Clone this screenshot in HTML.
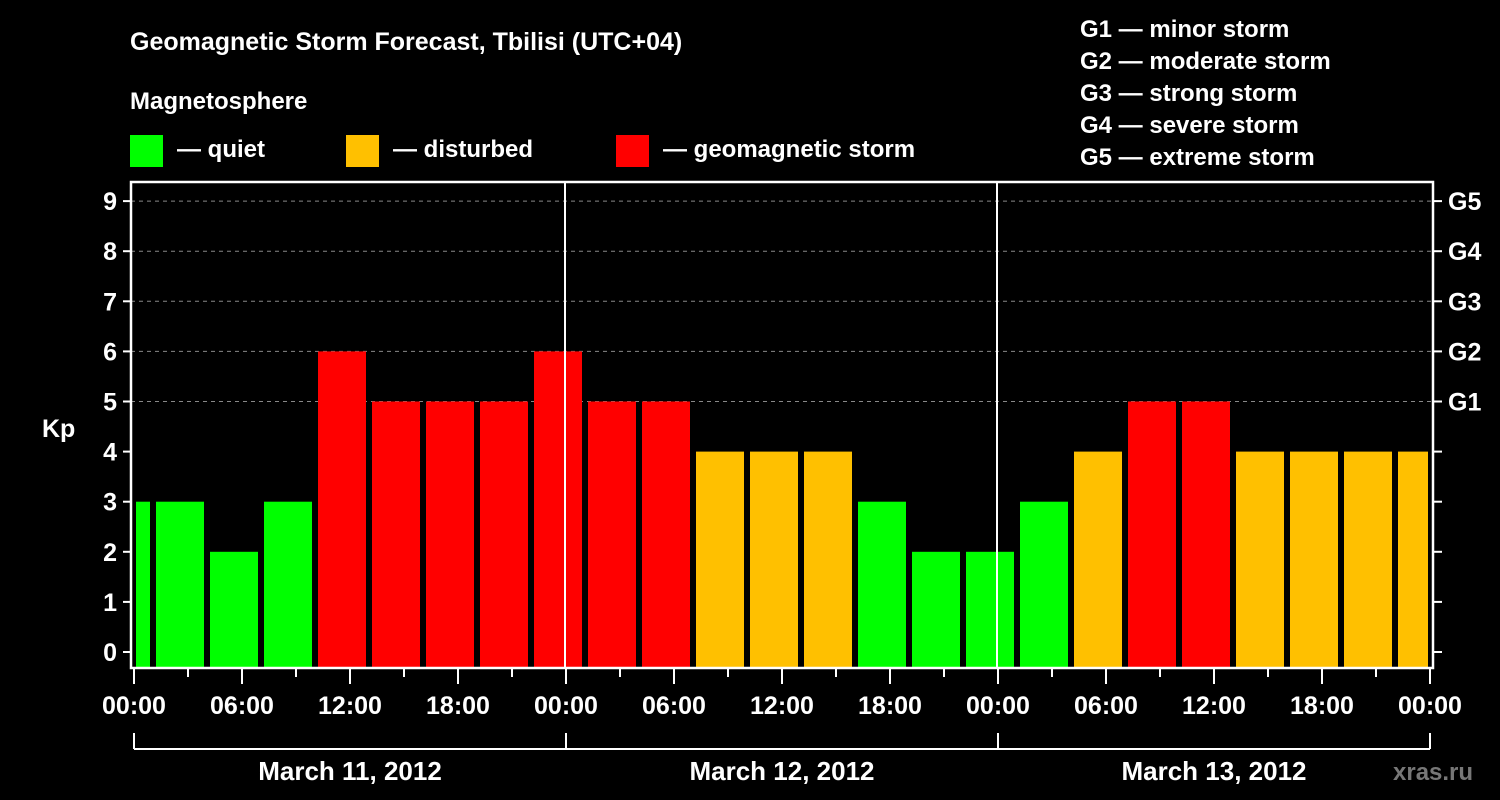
<!DOCTYPE html>
<html><head><meta charset="utf-8"><style>
html,body{margin:0;padding:0;background:#000;width:1500px;height:800px;overflow:hidden}
svg{display:block;font-family:"Liberation Sans",sans-serif;font-weight:bold}
</style></head><body>
<svg id="chart" width="1500" height="800">
<text x="130" y="50" fill="#fff" font-size="25">Geomagnetic Storm Forecast, Tbilisi (UTC+04)</text>
<text x="130" y="109" fill="#fff" font-size="24">Magnetosphere</text>
<g><rect x="130" y="135" width="33" height="32" fill="#00ff00"/><text x="177" y="157" fill="#fff" font-size="24">— quiet</text></g>
<g><rect x="346" y="135" width="33" height="32" fill="#ffc000"/><text x="393" y="157" fill="#fff" font-size="24">— disturbed</text></g>
<g><rect x="616" y="135" width="33" height="32" fill="#ff0000"/><text x="663" y="157" fill="#fff" font-size="24">— geomagnetic storm</text></g>
<g fill="#fff" font-size="24">
<text x="1080" y="37">G1 — minor storm</text><text x="1080" y="69">G2 — moderate storm</text><text x="1080" y="101">G3 — strong storm</text><text x="1080" y="133">G4 — severe storm</text><text x="1080" y="165">G5 — extreme storm</text></g>
<text x="42" y="437" fill="#fff" font-size="25">Kp</text>
<text x="1393" y="780" fill="#777" font-size="24">xras.ru</text>
<g id="marks"></g>
</svg>
<script>
const kpValues=[3,3,2,3,6,5,5,5,6,5,5,4,4,4,3,2,2,3,4,5,5,4,4,4,4];
const yTicks=[0,1,2,3,4,5,6,7,8,9];
const gLabels=["G1","G2","G3","G4","G5"];
const xTickLabels=["00:00","06:00","12:00","18:00","00:00","06:00","12:00","18:00","00:00","06:00","12:00","18:00","00:00"];
const dateLabels=["March 11, 2012","March 12, 2012","March 13, 2012"];
const L=131,R=1433,T=182,B=668,X0=134,HP=18;
const x=h=>X0+h*HP;
const y=v=>652-v*50.1;
const NS="http://www.w3.org/2000/svg";
const g=document.getElementById('marks');
function mk(tag,attrs,txt){const e=document.createElementNS(NS,tag);for(const k in attrs)e.setAttribute(k,attrs[k]);if(txt!==undefined)e.textContent=txt;g.appendChild(e);return e;}
const col=v=>v>=5?"#ff0000":(v>=4?"#ffc000":"#00ff00");
// grid
yTicks.forEach(v=>{if(v>=5){const e=mk('line',{x1:L,x2:R,y1:y(v),y2:y(v),stroke:'#888','stroke-dasharray':'4,4','stroke-width':1});

}});
// bars
kpValues.forEach((v,i)=>{const h0=-2+3*i;let xa=x(h0)+4,xb=x(h0+3)-2;xa=Math.max(xa,L+5);xb=Math.min(xb,R-5);
const e=mk('rect',{x:xa,y:y(v),width:xb-xa,height:B-1-y(v),fill:col(v)});

});
// frame
const fr=mk('rect',{x:L,y:T,width:R-L,height:B-T,fill:'none',stroke:'#fff','stroke-width':2.5});


[24,48].forEach(h=>{const e=mk('line',{x1:x(h)-1,x2:x(h)-1,y1:T,y2:B,stroke:'#fff','stroke-width':2});

});
// y ticks
yTicks.forEach(v=>{mk('line',{x1:L-8,x2:L,y1:y(v),y2:y(v),stroke:'#fff','stroke-width':2});
mk('line',{x1:R,x2:R+9,y1:y(v),y2:y(v),stroke:'#fff','stroke-width':2});
const t=mk('text',{x:L-14,y:y(v)+9,fill:'#fff','font-size':25,'text-anchor':'end'},v);

});
gLabels.forEach((s,i)=>{const t=mk('text',{x:1448,y:y(5+i)+9,fill:'#fff','font-size':25},s);

});
// x ticks
for(let h=0;h<=72;h+=3){const maj=h%6===0;mk('line',{x1:x(h),x2:x(h),y1:B,y2:B+(maj?16:9),stroke:'#fff','stroke-width':2});}
xTickLabels.forEach((s,i)=>{const t=mk('text',{x:x(i*6),y:714,fill:'#fff','font-size':25,'text-anchor':'middle'},s);

});
// date bracket
mk('line',{x1:x(0),x2:x(72),y1:749,y2:749,stroke:'#fff','stroke-width':2});
[0,24,48,72].forEach(h=>mk('line',{x1:x(h),x2:x(h),y1:733,y2:749,stroke:'#fff','stroke-width':2}));
dateLabels.forEach((s,i)=>{const t=mk('text',{x:x(12+24*i),y:780,fill:'#fff','font-size':26,'text-anchor':'middle'},s);

});
</script>
</body></html>
